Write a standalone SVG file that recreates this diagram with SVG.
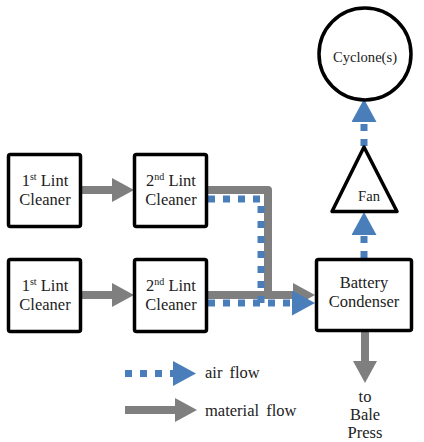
<svg xmlns="http://www.w3.org/2000/svg" width="424" height="442" viewBox="0 0 424 442" font-family="Liberation Serif, Times New Roman, serif">
<style>
.box{fill:#fff;stroke:#000;stroke-width:3.5;stroke-linejoin:round}
text{fill:#222}
.t{font-size:16.5px;text-anchor:middle}
.ts{font-size:14.6px;text-anchor:middle}
.sup{font-size:10px}
.mat{fill:none;stroke:#7f7f7f;stroke-width:8;stroke-linejoin:round}
.air{fill:none;stroke:#4a7ebb;stroke-width:7;stroke-dasharray:7 8}
</style>
<defs>
<marker id="gh" markerUnits="userSpaceOnUse" viewBox="0 0 22 24" refX="0" refY="12" markerWidth="22" markerHeight="24" orient="auto"><path d="M0,0 L22,12 L0,24 Z" fill="#7f7f7f"/></marker>
<marker id="bh" markerUnits="userSpaceOnUse" viewBox="0 0 23 25" refX="0" refY="12.5" markerWidth="23" markerHeight="25" orient="auto"><path d="M0,0 L23,12.5 L0,25 Z" fill="#4a7ebb"/></marker>
</defs>
<g id="connectors">
<path class="mat" d="M82,190 H112" marker-end="url(#gh)"/>
<path class="mat" d="M82,295 H112" marker-end="url(#gh)"/>
<path class="mat" d="M208,190 H268 V295"/>
<path class="mat" d="M208,295 H293" marker-end="url(#gh)"/>
<path class="air" d="M208,199 H261 V303"/>
<path class="air" d="M208,303 H292" marker-end="url(#bh)"/>
<path class="air" d="M364,258 V235" marker-end="url(#bh)"/>
<path class="air" d="M364,146 V122" marker-end="url(#bh)"/>
<path class="mat" d="M365,332 V361" marker-end="url(#gh)"/>
</g>
<g id="lint1a"><rect class="box" x="8.5" y="154.5" width="72" height="72" rx="2"/><text class="t" x="45" y="186" font-family="Liberation Serif">1<tspan class="sup" dy="-6">st</tspan><tspan dy="6"> Lint</tspan></text><text class="t" x="45" y="205">Cleaner</text></g>
<g id="lint2a"><rect class="box" x="134.5" y="154.5" width="72" height="72" rx="2"/><text class="t" x="171" y="186">2<tspan class="sup" dy="-6">nd</tspan><tspan dy="6"> Lint</tspan></text><text class="t" x="171" y="205">Cleaner</text></g>
<g id="lint1b"><rect class="box" x="8.5" y="259.5" width="72" height="72" rx="2"/><text class="t" x="45" y="291">1<tspan class="sup" dy="-6">st</tspan><tspan dy="6"> Lint</tspan></text><text class="t" x="45" y="310">Cleaner</text></g>
<g id="lint2b"><rect class="box" x="134.5" y="259.5" width="72" height="72" rx="2"/><text class="t" x="171" y="291">2<tspan class="sup" dy="-6">nd</tspan><tspan dy="6"> Lint</tspan></text><text class="t" x="171" y="310">Cleaner</text></g>
<g id="condenser"><rect class="box" x="316.5" y="259.5" width="95" height="71" rx="2"/><text class="t" x="364" y="288">Battery</text><text class="t" x="364" y="307">Condenser</text></g>
<g id="fan"><path class="box" d="M364,147 L332,211.5 L397,211.5 Z"/><text class="ts" x="369" y="201">Fan</text></g>
<g id="cyclone"><circle class="box" cx="365" cy="54" r="46"/><text class="ts" x="365" y="62">Cyclone(s)</text></g>
<g id="bale"><text class="t" x="365" y="402">to</text><text class="t" x="365" y="420">Bale</text><text class="t" x="365" y="438">Press</text></g>
<g id="legend">
<path class="air" d="M125,373.5 H173" marker-end="url(#bh)"/>
<path class="mat" d="M125,410 H175" marker-end="url(#gh)"/>
<text class="t" x="205" y="378" style="text-anchor:start;word-spacing:3px">air flow</text>
<text class="t" x="205" y="416" style="text-anchor:start;word-spacing:3px">material flow</text>
</g>
</svg>
